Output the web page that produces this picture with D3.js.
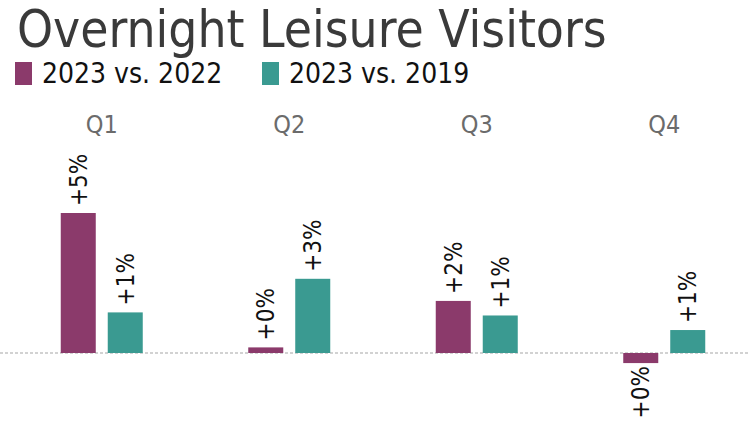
<!DOCTYPE html>
<html>
<head>
<meta charset="utf-8">
<script src="https://cdn.jsdelivr.net/npm/d3@7"></script>
<style>
  html, body { margin: 0; padding: 0; background: #fff; }
  svg { display: block; }
</style>
</head>
<body>
<svg id="chart" width="748" height="421"></svg>
<script>
const quarters = ["Q1", "Q2", "Q3", "Q4"];
const seriesNames = ["2023 vs. 2022", "2023 vs. 2019"];
const vs2022 = [5.0, 0.2, 1.86, -0.36];
const vs2019 = [1.45, 2.65, 1.34, 0.82];
const labels2022 = ["+5%", "+0%", "+2%", "+0%"];
const labels2019 = ["+1%", "+3%", "+1%", "+1%"];
const colors = ["#8b3a6b", "#3a9a91"];

const W = 748, H = 421;
const FONT = "Tahoma, 'DejaVu Sans Condensed', 'DejaVu Sans', sans-serif";
const svg = d3.select("#chart");

// Title
svg.append("text")
  .attr("x", 17).attr("y", 47)
  .attr("font-family", FONT).attr("font-size", 51)
  .attr("fill", "#3a3a3a")
  .text("Overnight Leisure Visitors");

// Legend
const legendX = [15, 262];
seriesNames.forEach((name, i) => {
  const g = svg.append("g").attr("transform", `translate(${legendX[i]},0)`);
  g.append("rect").attr("x", 0).attr("y", 62).attr("width", 17).attr("height", 23).attr("fill", colors[i]);
  g.append("text").attr("x", 27).attr("y", 83)
    .attr("font-family", FONT).attr("font-size", 28).attr("fill", "#111")
    .text(name);
});

// Scales
const x0 = d3.scaleBand().domain(quarters).range([8, 758]).paddingInner(0);
const groupW = 82;
const x1 = d3.scaleBand().domain([0, 1]).range([0, groupW]).paddingInner(0.255);
const groupOff = (x0.bandwidth() - groupW) / 2;
const y = d3.scaleLinear().domain([0, 5]).range([353, 213]);

// Quarter labels
svg.append("g").selectAll("text").data(quarters).join("text")
  .attr("x", d => x0(d) + x0.bandwidth() / 2)
  .attr("y", 133)
  .attr("text-anchor", "middle")
  .attr("font-family", FONT).attr("font-size", 25)
  .attr("fill", "#6b6b6b")
  .text(d => d);

// Baseline
svg.append("line")
  .attr("x1", 0).attr("x2", W)
  .attr("y1", y(0)).attr("y2", y(0))
  .attr("stroke", "#c4c4c4").attr("stroke-width", 1.5)
  .attr("stroke-dasharray", "3,2");

// Bars
const rows = [];
quarters.forEach((q, qi) => {
  rows.push({ q, s: 0, v: vs2022[qi], label: labels2022[qi] });
  rows.push({ q, s: 1, v: vs2019[qi], label: labels2019[qi] });
});

svg.append("g").selectAll("rect").data(rows).join("rect")
  .attr("x", d => x0(d.q) + groupOff + x1(d.s))
  .attr("width", x1.bandwidth())
  .attr("y", d => Math.min(y(d.v), y(0)))
  .attr("height", d => Math.abs(y(d.v) - y(0)))
  .attr("fill", d => colors[d.s]);

// Value labels (rotated)
svg.append("g").selectAll("text").data(rows).join("text")
  .attr("transform", d => {
    const cx = x0(d.q) + groupOff + x1(d.s) + x1.bandwidth() / 2;
    const yy = d.v >= 0 ? y(d.v) - 7 : y(d.v) + 3;
    return `translate(${cx},${yy}) rotate(-90)`;
  })
  .attr("dy", "0.36em")
  .attr("text-anchor", d => d.v >= 0 ? "start" : "end")
  .attr("font-family", FONT).attr("font-size", 24)
  .attr("fill", "#111")
  .text(d => d.label);
</script>
</body>
</html>
